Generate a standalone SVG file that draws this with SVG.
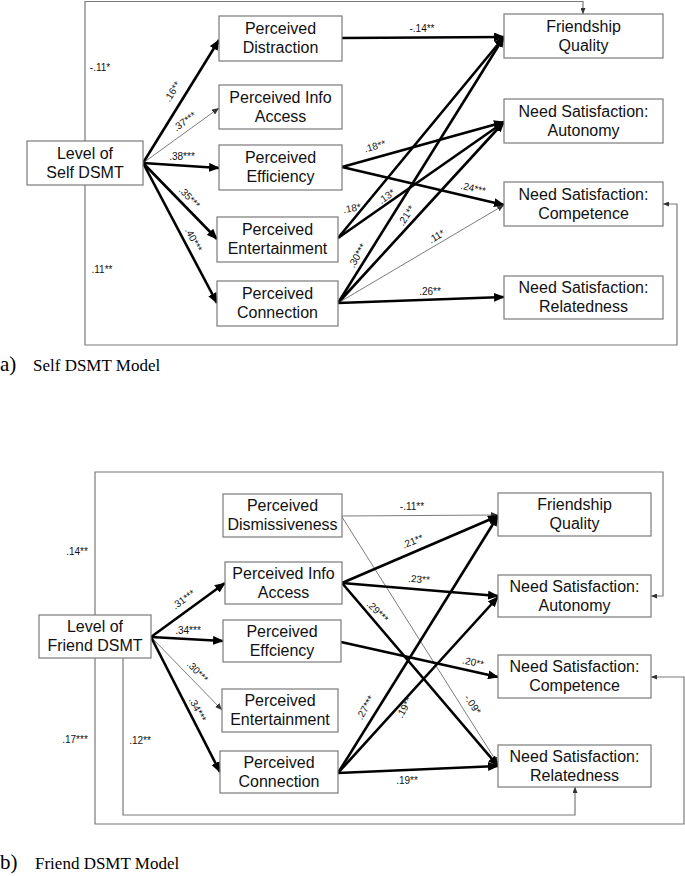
<svg xmlns="http://www.w3.org/2000/svg" width="685" height="876" viewBox="0 0 685 876">
<style>
.bg{fill:#fff}
.box{fill:#fff;stroke:#7a7a7a;stroke-width:1.2}
.nt{font-family:"Liberation Sans",Arial,sans-serif;font-size:16px;fill:#111;text-anchor:middle}
.lb{font-family:"Liberation Sans",Arial,sans-serif;font-size:10px;fill:#111;text-anchor:middle;dominant-baseline:middle}
.thick{stroke:#000;stroke-width:2.6;fill:none;marker-end:url(#ahk)}
.thin{stroke:#5a5a5a;stroke-width:0.8;fill:none;marker-end:url(#ahn)}
.frame{stroke:#7a7a7a;stroke-width:1.2;fill:none;marker-end:url(#ahf)}
.cap{font-family:"Liberation Serif","Times New Roman",serif;fill:#000}
</style>
<defs>
<marker id="ahk" markerUnits="userSpaceOnUse" markerWidth="11" markerHeight="9" refX="10" refY="4.5" orient="auto"><path d="M0,0 L11,4.5 L0,9 z" fill="#000"/></marker>
<marker id="ahn" markerUnits="userSpaceOnUse" markerWidth="7" markerHeight="6" refX="7" refY="3" orient="auto"><path d="M0,0 L7,3 L0,6 z" fill="#333"/></marker>
<marker id="ahf" markerUnits="userSpaceOnUse" markerWidth="6" markerHeight="5" refX="6" refY="2.5" orient="auto"><path d="M0,0 L6,2.5 L0,5 z" fill="#333"/></marker>
</defs>
<rect class="bg" x="0" y="0" width="685" height="876"/>

<g id="connectors">
<polyline class="frame" points="85,141 85,1.5 583,1.5 583,14"/>
<polyline class="frame" points="85,185 85,345 677,345 677,204 663,204"/>
<line class="thick" x1="143" y1="163" x2="219" y2="40"/>
<line class="thin" x1="143" y1="163" x2="219" y2="108"/>
<line class="thick" x1="143" y1="163" x2="219" y2="168"/>
<line class="thick" x1="143" y1="163" x2="217" y2="239"/>
<line class="thick" x1="143" y1="163" x2="217" y2="303"/>
<line class="thick" x1="342" y1="38" x2="504" y2="37"/>
<line class="thick" x1="342" y1="167" x2="504" y2="122"/>
<line class="thick" x1="342" y1="167" x2="504" y2="205"/>
<line class="thick" x1="338" y1="238" x2="504" y2="37"/>
<line class="thick" x1="338" y1="238" x2="504" y2="122"/>
<line class="thick" x1="338" y1="303" x2="504" y2="37"/>
<line class="thick" x1="338" y1="303" x2="504" y2="122"/>
<line class="thin" x1="338" y1="303" x2="504" y2="205"/>
<line class="thick" x1="338" y1="303" x2="504" y2="297"/>
<polyline class="frame" points="95,615 95,472 663,472 663,596 651,596"/>
<polyline class="frame" points="95,658 95,824 684,824 684,677 651,677"/>
<polyline class="frame" points="123,658 123,815 575,815 575,787"/>
<line class="thick" x1="151" y1="637" x2="225" y2="583"/>
<line class="thick" x1="151" y1="637" x2="223" y2="641"/>
<line class="thin" x1="151" y1="637" x2="222" y2="710"/>
<line class="thick" x1="151" y1="637" x2="220" y2="772"/>
<line class="thin" x1="342" y1="516" x2="498" y2="515"/>
<line class="thin" x1="342" y1="517" x2="498" y2="764"/>
<line class="thick" x1="342" y1="583" x2="498" y2="516"/>
<line class="thick" x1="342" y1="583" x2="498" y2="596"/>
<line class="thick" x1="342" y1="583" x2="498" y2="766"/>
<line class="thick" x1="341" y1="642" x2="498" y2="677"/>
<line class="thick" x1="338" y1="773" x2="498" y2="516"/>
<line class="thick" x1="338" y1="773" x2="498" y2="597"/>
<line class="thick" x1="338" y1="773" x2="498" y2="766"/>
</g>

<g id="labels">
<text class="lb" x="100" y="68">-.11*</text>
<text class="lb" x="102" y="270">.11**</text>
<text class="lb" x="173" y="92" transform="rotate(-58 173 92)">.16**</text>
<text class="lb" x="185" y="122" transform="rotate(-36 185 122)">.37***</text>
<text class="lb" x="182" y="157">.38***</text>
<text class="lb" x="189" y="198" transform="rotate(46 189 198)">.35***</text>
<text class="lb" x="193" y="240" transform="rotate(62 193 240)">.40***</text>
<text class="lb" x="422" y="29">-.14**</text>
<text class="lb" x="375" y="147" transform="rotate(-16 375 147)">.18**</text>
<text class="lb" x="473" y="189" transform="rotate(13 473 189)">.24***</text>
<text class="lb" x="352" y="209" transform="rotate(-10 352 209)">.18*</text>
<text class="lb" x="387" y="197" transform="rotate(-35 387 197)">.13*</text>
<text class="lb" x="407" y="216" transform="rotate(-57 407 216)">.21**</text>
<text class="lb" x="358" y="256" transform="rotate(-60 358 256)">.30***</text>
<text class="lb" x="437" y="237" transform="rotate(-31 437 237)">.11*</text>
<text class="lb" x="430" y="292">.26**</text>

<text class="lb" x="77" y="552">.14**</text>
<text class="lb" x="75" y="740">.17***</text>
<text class="lb" x="140" y="741">.12**</text>
<text class="lb" x="184" y="600" transform="rotate(-36 184 600)">.31***</text>
<text class="lb" x="188" y="631">.34***</text>
<text class="lb" x="197" y="672" transform="rotate(46 197 672)">.30***</text>
<text class="lb" x="197" y="710" transform="rotate(63 197 710)">.34***</text>
<text class="lb" x="412" y="507">-.11**</text>
<text class="lb" x="413" y="542" transform="rotate(-23 413 542)">.21**</text>
<text class="lb" x="419" y="580" transform="rotate(4 419 580)">.23**</text>
<text class="lb" x="377" y="612" transform="rotate(45 377 612)">.29***</text>
<text class="lb" x="473" y="663" transform="rotate(12 473 663)">.20**</text>
<text class="lb" x="472" y="705" transform="rotate(55 472 705)">-.09*</text>
<text class="lb" x="366" y="708" transform="rotate(-60 366 708)">.27***</text>
<text class="lb" x="405" y="708" transform="rotate(-62 405 708)">.19**</text>
<text class="lb" x="407" y="781">.19**</text>
</g>

<g id="level_self"><rect class="box" x="27" y="141" width="116" height="44"/><text class="nt" x="85" y="159">Level of</text><text class="nt" x="85" y="178">Self DSMT</text></g>
<g id="distraction_self"><rect class="box" x="219" y="16" width="123" height="45"/><text class="nt" x="280.5" y="34">Perceived</text><text class="nt" x="280.5" y="53">Distraction</text></g>
<g id="info_self"><rect class="box" x="219" y="85" width="123" height="44"/><text class="nt" x="280.5" y="103">Perceived Info</text><text class="nt" x="280.5" y="122">Access</text></g>
<g id="efficiency_self"><rect class="box" x="219" y="145" width="123" height="45"/><text class="nt" x="280.5" y="163">Perceived</text><text class="nt" x="280.5" y="182">Efficiency</text></g>
<g id="entertainment_self"><rect class="box" x="217" y="217" width="121" height="45"/><text class="nt" x="277.5" y="235">Perceived</text><text class="nt" x="277.5" y="254">Entertainment</text></g>
<g id="connection_self"><rect class="box" x="217" y="281" width="121" height="45"/><text class="nt" x="277.5" y="299">Perceived</text><text class="nt" x="277.5" y="318">Connection</text></g>
<g id="fq_self"><rect class="box" x="504" y="14" width="159" height="44"/><text class="nt" x="583.5" y="32">Friendship</text><text class="nt" x="583.5" y="51">Quality</text></g>
<g id="autonomy_self"><rect class="box" x="504" y="99" width="159" height="44"/><text class="nt" x="583.5" y="117">Need Satisfaction:</text><text class="nt" x="583.5" y="136">Autonomy</text></g>
<g id="competence_self"><rect class="box" x="504" y="182" width="159" height="44"/><text class="nt" x="583.5" y="200">Need Satisfaction:</text><text class="nt" x="583.5" y="219">Competence</text></g>
<g id="relatedness_self"><rect class="box" x="504" y="276" width="159" height="43"/><text class="nt" x="583.5" y="293">Need Satisfaction:</text><text class="nt" x="583.5" y="312">Relatedness</text></g>

<g id="level_friend"><rect class="box" x="39" y="615" width="112" height="43"/><text class="nt" x="95" y="632">Level of</text><text class="nt" x="95" y="651">Friend DSMT</text></g>
<g id="dismiss_friend"><rect class="box" x="223" y="494" width="119" height="43"/><text class="nt" x="282.5" y="511">Perceived</text><text class="nt" x="282.5" y="530">Dismissiveness</text></g>
<g id="info_friend"><rect class="box" x="225" y="562" width="117" height="42"/><text class="nt" x="283.5" y="579">Perceived Info</text><text class="nt" x="283.5" y="598">Access</text></g>
<g id="efficiency_friend"><rect class="box" x="223" y="620" width="118" height="42"/><text class="nt" x="282" y="637">Perceived</text><text class="nt" x="282" y="656">Effciency</text></g>
<g id="entertainment_friend"><rect class="box" x="222" y="689" width="116" height="43"/><text class="nt" x="280" y="706">Perceived</text><text class="nt" x="280" y="725">Entertainment</text></g>
<g id="connection_friend"><rect class="box" x="220" y="751" width="118" height="42"/><text class="nt" x="279" y="768">Perceived</text><text class="nt" x="279" y="787">Connection</text></g>
<g id="fq_friend"><rect class="box" x="498" y="493" width="153" height="43"/><text class="nt" x="574.5" y="510">Friendship</text><text class="nt" x="574.5" y="529">Quality</text></g>
<g id="autonomy_friend"><rect class="box" x="498" y="575" width="153" height="42"/><text class="nt" x="574.5" y="592">Need Satisfaction:</text><text class="nt" x="574.5" y="611">Autonomy</text></g>
<g id="competence_friend"><rect class="box" x="498" y="655" width="153" height="43"/><text class="nt" x="574.5" y="672">Need Satisfaction:</text><text class="nt" x="574.5" y="691">Competence</text></g>
<g id="relatedness_friend"><rect class="box" x="498" y="745" width="153" height="42"/><text class="nt" x="574.5" y="762">Need Satisfaction:</text><text class="nt" x="574.5" y="781">Relatedness</text></g>

<g id="captions">
<text class="cap" x="0" y="371" font-size="21">a)</text>
<text class="cap" x="33" y="371" font-size="17">Self DSMT Model</text>
<text class="cap" x="0" y="869" font-size="21">b)</text>
<text class="cap" x="35" y="869" font-size="17">Friend DSMT Model</text>
</g>
</svg>
